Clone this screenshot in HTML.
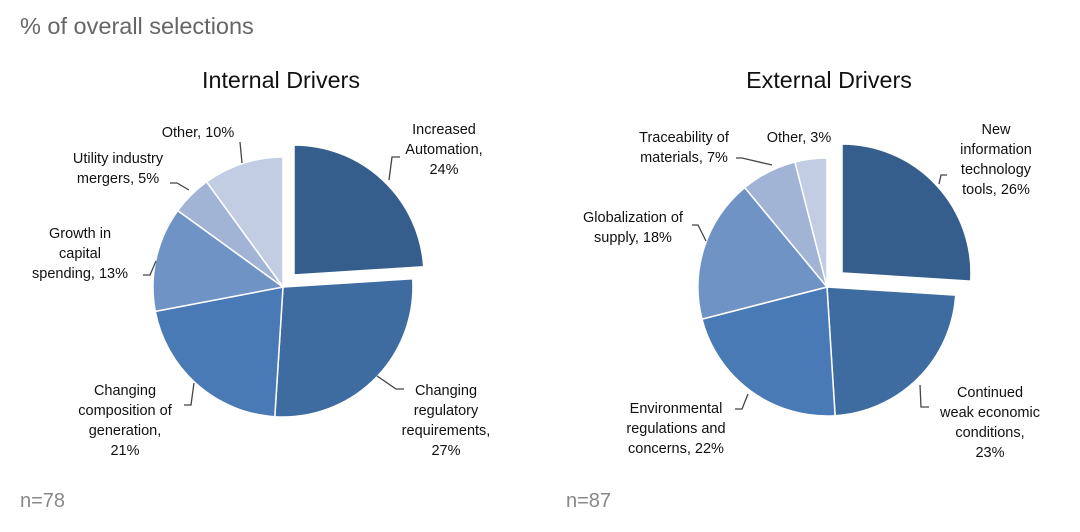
<!DOCTYPE html>
<html><head><meta charset="utf-8"><style>
body{margin:0;background:#fff;}
svg{display:block;font-family:"Liberation Sans",Arial,sans-serif;}
</style></head><body>
<svg width="1080" height="532" viewBox="0 0 1080 532" xmlns="http://www.w3.org/2000/svg">
<rect width="1080" height="532" fill="#fff"/>
<text x="20" y="34" font-size="23.5" fill="#666">% of overall selections</text>
<text x="281" y="88" font-size="23.3" fill="#111" text-anchor="middle">Internal Drivers</text>
<text x="829" y="88" font-size="23.3" fill="#111" text-anchor="middle">External Drivers</text>
<text x="20" y="507" font-size="20" fill="#888">n=78</text>
<text x="566" y="507" font-size="20" fill="#888">n=87</text>

<g stroke="#fff" stroke-width="1.5" stroke-linejoin="round">
<path d="M294,275 L294,145 A130,130 0 0 1 423.7,266.8 Z" fill="#365e8c"/>
<path d="M283,287 L412.7,278.8 A130,130 0 0 1 274.8,416.7 Z" fill="#3f6ca0"/>
<path d="M283,287 L274.8,416.7 A130,130 0 0 1 155.3,311.4 Z" fill="#4a7ab5"/>
<path d="M283,287 L155.3,311.4 A130,130 0 0 1 177.8,210.6 Z" fill="#7093c6"/>
<path d="M283,287 L177.8,210.6 A130,130 0 0 1 206.6,181.8 Z" fill="#a2b4d6"/>
<path d="M283,287 L206.6,181.8 A130,130 0 0 1 283,157 Z" fill="#c2cde3"/>
<path d="M842,273 L842,144 A129,129 0 0 1 970.7,281.1 Z" fill="#365e8c"/>
<path d="M827,287 L955.7,295.1 A129,129 0 0 1 835.1,415.7 Z" fill="#3f6ca0"/>
<path d="M827,287 L835.1,415.7 A129,129 0 0 1 702,319.1 Z" fill="#4a7ab5"/>
<path d="M827,287 L702,319.1 A129,129 0 0 1 744.8,187.6 Z" fill="#7093c6"/>
<path d="M827,287 L744.8,187.6 A129,129 0 0 1 794.9,162 Z" fill="#a2b4d6"/>
<path d="M827,287 L794.9,162 A129,129 0 0 1 827,158 Z" fill="#c2cde3"/>
</g>

<g fill="none" stroke="#444" stroke-width="1.3">
<path d="M389,180 L392,157 L400,157"/>
<path d="M377,376 L396,389 L404,389"/>
<path d="M194,383 L191,405 L184,405"/>
<path d="M156,261 L150,275 L143,275"/>
<path d="M189,190 L177,183 L170,183"/>
<path d="M242,163 L240,142"/>
<path d="M939,184 L941,175 L947,175"/>
<path d="M920,385 L921,407 L929,407"/>
<path d="M748,394 L742,409 L735,409"/>
<path d="M706,241 L698,225 L692,225"/>
<path d="M772,165 L742,158 L736,158"/>
</g>

<g font-size="14.5" fill="#111" text-anchor="middle">
<text x="444" y="134">Increased</text><text x="444" y="154">Automation,</text><text x="444" y="174">24%</text>
<text x="446" y="395">Changing</text><text x="446" y="415">regulatory</text><text x="446" y="435">requirements,</text><text x="446" y="455">27%</text>
<text x="125" y="395">Changing</text><text x="125" y="415">composition of</text><text x="125" y="435">generation,</text><text x="125" y="455">21%</text>
<text x="80" y="238">Growth in</text><text x="80" y="258">capital</text><text x="80" y="278">spending, 13%</text>
<text x="118" y="163">Utility industry</text><text x="118" y="183">mergers, 5%</text>
<text x="198" y="137">Other, 10%</text>
<text x="996" y="134">New</text><text x="996" y="154">information</text><text x="996" y="174">technology</text><text x="996" y="194">tools, 26%</text>
<text x="990" y="397">Continued</text><text x="990" y="417">weak economic</text><text x="990" y="437">conditions,</text><text x="990" y="457">23%</text>
<text x="676" y="413">Environmental</text><text x="676" y="433">regulations and</text><text x="676" y="453">concerns, 22%</text>
<text x="633" y="222">Globalization of</text><text x="633" y="242">supply, 18%</text>
<text x="684" y="142">Traceability of</text><text x="684" y="162">materials, 7%</text>
<text x="799" y="142">Other, 3%</text>
</g>
</svg>
</body></html>
